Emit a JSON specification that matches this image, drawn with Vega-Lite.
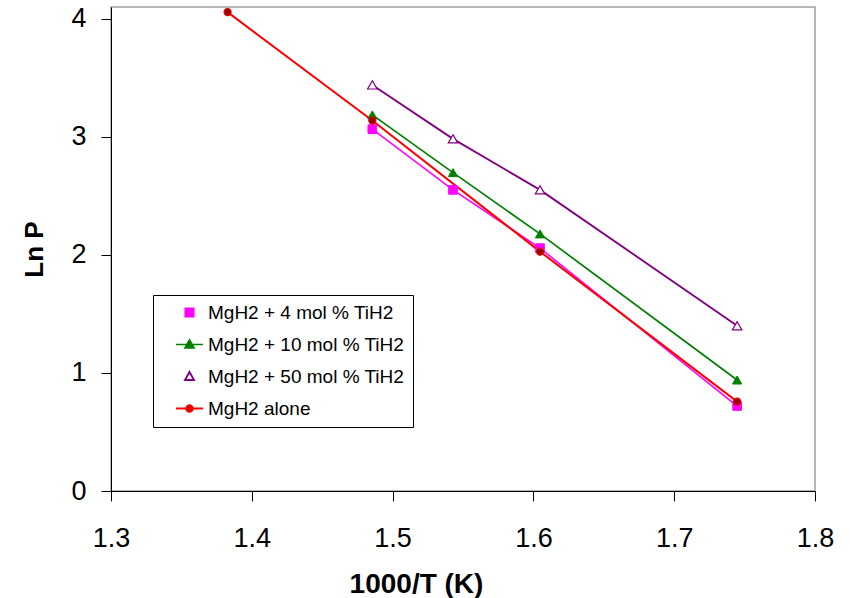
{
  "$schema": "https://vega.github.io/schema/vega-lite/v6.json",
  "width": 704,
  "height": 484,
  "autosize": {"type": "none"},
  "padding": {"left": 111, "top": 7, "right": 35, "bottom": 107},
  "background": "white",
  "config": {
    "font": "Liberation Sans",
    "view": {"stroke": "#A0A0A0", "strokeWidth": 1.5},
    "axis": {
      "grid": false,
      "domainColor": "#000000",
      "domainWidth": 1,
      "tickColor": "#000000",
      "tickWidth": 1,
      "tickSize": 10,
      "labelColor": "#000000",
      "labelFont": "Liberation Sans",
      "labelFontSize": 27,
      "labelFlush": false,
      "labelOverlap": false,
      "titleColor": "#000000",
      "titleFont": "Liberation Sans",
      "titleFontWeight": "bold"
    },
    "legend": {
      "orient": "none",
      "legendX": 42,
      "legendY": 288,
      "title": null,
      "padding": 8,
      "strokeColor": "#000000",
      "fillColor": "#FFFFFF",
      "labelFont": "Liberation Sans",
      "labelFontSize": 19,
      "labelColor": "#000000",
      "rowPadding": 12,
      "symbolSize": 100,
      "symbolOpacity": 1,
      "symbolOffset": 19,
      "labelOffset": 9,
      "labelLimit": 400
    }
  },
  "data": {
    "values": [
      {"x": 1.4856, "y": 3.065, "series": "MgH2 + 4 mol % TiH2"},
      {"x": 1.5429, "y": 2.551, "series": "MgH2 + 4 mol % TiH2"},
      {"x": 1.6047, "y": 2.057, "series": "MgH2 + 4 mol % TiH2"},
      {"x": 1.7447, "y": 0.72, "series": "MgH2 + 4 mol % TiH2"},
      {"x": 1.4856, "y": 3.186, "series": "MgH2 + 10 mol % TiH2"},
      {"x": 1.5429, "y": 2.697, "series": "MgH2 + 10 mol % TiH2"},
      {"x": 1.6047, "y": 2.178, "series": "MgH2 + 10 mol % TiH2"},
      {"x": 1.7447, "y": 0.94, "series": "MgH2 + 10 mol % TiH2"},
      {"x": 1.4856, "y": 3.44, "series": "MgH2 + 50 mol % TiH2"},
      {"x": 1.5429, "y": 2.983, "series": "MgH2 + 50 mol % TiH2"},
      {"x": 1.6047, "y": 2.551, "series": "MgH2 + 50 mol % TiH2"},
      {"x": 1.7447, "y": 1.4, "series": "MgH2 + 50 mol % TiH2"},
      {"x": 1.3828, "y": 4.057, "series": "MgH2 alone"},
      {"x": 1.4856, "y": 3.138, "series": "MgH2 alone"},
      {"x": 1.6047, "y": 2.028, "series": "MgH2 alone"},
      {"x": 1.7447, "y": 0.757, "series": "MgH2 alone"}
    ]
  },
  "encoding": {
    "x": {
      "field": "x",
      "type": "quantitative",
      "scale": {"domain": [1.3, 1.8], "nice": false, "zero": false},
      "axis": {
        "title": "1000/T (K)",
        "values": [1.3, 1.4, 1.5, 1.6, 1.7, 1.8],
        "format": ".1f",
        "labelPadding": 24,
        "titleFontSize": 28,
        "titleX": 305,
        "titleY": 101,
        "titleBaseline": "alphabetic",
        "titleAlign": "center",
        "titleAnchor": null
      }
    },
    "y": {
      "field": "y",
      "type": "quantitative",
      "scale": {"domain": [0, 4.1], "nice": false},
      "axis": {
        "title": "Ln P",
        "values": [0, 1, 2, 3, 4],
        "format": "d",
        "labelPadding": 15,
        "titleFontSize": 26,
        "titleAngle": -90,
        "titleX": -69,
        "titleY": 242,
        "titleBaseline": "alphabetic",
        "titleAlign": "center",
        "titleAnchor": null
      }
    }
  },
  "layer": [
    {
      "mark": {"type": "line"},
      "encoding": {
        "stroke": {
          "field": "series",
          "type": "nominal",
          "scale": {
            "domain": ["MgH2 + 4 mol % TiH2", "MgH2 + 10 mol % TiH2", "MgH2 + 50 mol % TiH2", "MgH2 alone"],
            "range": ["#FF00FF", "#008000", "#800080", "#FF0000"]
          },
          "legend": {"title": null, "orient": "none", "legendX": 42, "legendY": 288}
        },
        "strokeWidth": {
          "field": "series",
          "type": "nominal",
          "scale": {
            "domain": ["MgH2 + 4 mol % TiH2", "MgH2 + 10 mol % TiH2", "MgH2 + 50 mol % TiH2", "MgH2 alone"],
            "range": [1.6, 2, 1.6, 2.6]
          }
        }
      }
    },
    {
      "mark": {"type": "point", "filled": true, "opacity": 0},
      "encoding": {
        "shape": {
          "field": "series",
          "type": "nominal",
          "scale": {
            "domain": ["MgH2 + 4 mol % TiH2", "MgH2 + 10 mol % TiH2", "MgH2 + 50 mol % TiH2", "MgH2 alone"],
            "range": [
              "M-0.85,-0.85H0.85V0.85H-0.85Z",
              "M-2.7,0H2.7M0,-0.9L0.9,0.7H-0.9Z",
              "M0,-0.9L0.9,0.7H-0.9Z",
              "M-2.7,0H2.7M-0.65,0A0.65,0.65,0,1,0,0.65,0A0.65,0.65,0,1,0,-0.65,0Z"
            ]
          }
        },
        "fill": {
          "field": "series",
          "type": "nominal",
          "scale": {
            "domain": ["MgH2 + 4 mol % TiH2", "MgH2 + 10 mol % TiH2", "MgH2 + 50 mol % TiH2", "MgH2 alone"],
            "range": ["#FF00FF", "#008000", "transparent", "#990000"]
          }
        },
        "stroke": {"field": "series", "type": "nominal"}
      }
    },
    {
      "transform": [{"filter": "datum.series === 'MgH2 + 4 mol % TiH2'"}],
      "mark": {"type": "point", "shape": "square", "filled": true, "opacity": 1, "fill": "#FF00FF", "stroke": "#FF00FF", "strokeWidth": 1, "size": 75}
    },
    {
      "transform": [{"filter": "datum.series === 'MgH2 + 10 mol % TiH2'"}],
      "mark": {"type": "point", "shape": "triangle-up", "filled": true, "opacity": 1, "fill": "#008000", "stroke": "#008000", "strokeWidth": 1, "size": 85}
    },
    {
      "transform": [{"filter": "datum.series === 'MgH2 + 50 mol % TiH2'"}],
      "mark": {"type": "point", "shape": "triangle-up", "filled": true, "opacity": 1, "fill": "#FFFFFF", "stroke": "#800080", "strokeWidth": 1.2, "size": 90}
    },
    {
      "transform": [{"filter": "datum.series === 'MgH2 alone'"}],
      "mark": {"type": "point", "shape": "circle", "filled": true, "opacity": 1, "fill": "#990000", "stroke": "#E00000", "strokeWidth": 1.2, "size": 50}
    }
  ]
}
